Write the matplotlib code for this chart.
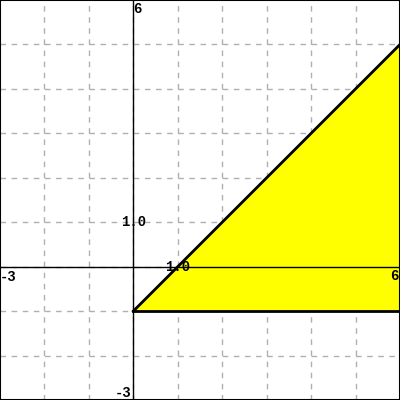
import matplotlib
matplotlib.use("Agg")
import matplotlib.pyplot as plt

xmin, xmax = -3, 6
ymin, ymax = -3, 6
region_x = [0, 6, 6]
region_y = [-1, 5, -1]
boundary_x = [0, 6]
boundary_y = [-1, 5]
floor_x = [0, 6]
floor_y = [-1, -1]

fig = plt.figure(figsize=(4, 4), dpi=100)
ax = fig.add_axes([0, 0, 1, 1])
ax.set_xlim(xmin, xmax)
ax.set_ylim(ymin, ymax)
for v in range(xmin + 1, xmax):
    ax.axvline(v, color="#b0b0b0", lw=1, ls=(0, (4, 4)), zorder=0)
for v in range(ymin + 1, ymax):
    ax.axhline(v, color="#b0b0b0", lw=1, ls=(0, (4, 4)), zorder=0)

ax.fill(region_x, region_y, color="#ffff00", zorder=1, lw=0)
ax.plot(boundary_x, boundary_y, color="black", lw=2, zorder=3)
ax.plot(floor_x, floor_y, color="black", lw=2, zorder=3)
ax.axhline(0, color="black", lw=1, zorder=2)
ax.axvline(0, color="black", lw=1, zorder=2)

for s in ax.spines.values():
    s.set_color("black")
    s.set_linewidth(1.5)
ax.set_xticks([])
ax.set_yticks([])

fp = dict(family="Liberation Mono", fontweight="bold", fontsize=10, color="black", zorder=5)
ax.text(0.0, 6 - 0.04, "6", ha="left", va="top", **fp)
ax.text(-0.03, -3 + 0.01, "-3", ha="right", va="bottom", **fp)
ax.text(-3 + 0.0, -0.08, "-3", ha="left", va="top", **fp)
ax.text(6 - 0.03, -0.06, "6", ha="right", va="top", **fp)
ax.text(0, 1.0, "1.0", ha="center", va="center", **fp)
ax.text(1, 0, "1.0", ha="center", va="center", **fp)

fig.savefig("out.png", dpi=100)
